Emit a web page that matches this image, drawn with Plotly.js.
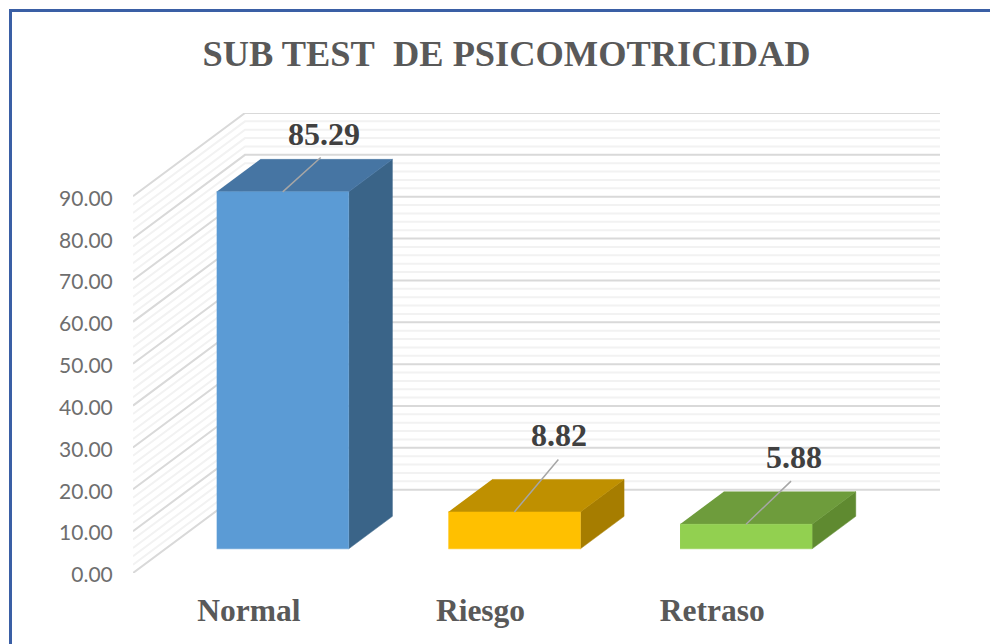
<!DOCTYPE html>
<html>
<head>
<meta charset="utf-8">
<script src="https://cdn.plot.ly/plotly-3.0.1.min.js"></script>
<style>
    html, body { margin: 0; padding: 0; background: white; overflow: hidden; }
    #chart { width: 990px; height: 644px; }
    #frame {
        position: absolute; left: 9px; top: 9px; right: 0; bottom: 0;
        border-left: 3px solid #3a5fa5; border-top: 3px solid #3a5fa5;
        pointer-events: none;
    }
</style>
</head>
<body>
<div id="chart"></div>
<div id="frame"></div>
<script>
const categories = ['Normal', 'Riesgo', 'Retraso'];
const values = [85.29, 8.82, 5.88];
const yTicks = [0, 10, 20, 30, 40, 50, 60, 70, 80, 90];

const frontColors = ['#5b9bd5', '#ffc000', '#92d050'];
const topColors = ['#4675a3', '#bf9000', '#6e9c3c'];
const sideColors = ['#3a6488', '#a67d00', '#5f8a30'];

// leader line tip and label centre, in pixels from the bar's front top edge
const leaderDx = [41, 47, 48];
const leaderDy = [-37, -56, -46];
const labelDx = [41, 45, 48];
const labelDy = [-58, -77, -67];

// oblique 3D look: depth 0 is the front of the floor, depth 1 the back wall
const DEPTH_X = 0.4834;
const DEPTH_Y = 19.9;
const BAR_FRONT = 0.29;
const BAR_BACK = 0.68;
const BAR_WIDTH = 0.57;
const BAR_SHIFT = 0.006;
const X_MIN = -0.5;
const X_MAX = 2.5;

function project(slot, value, depth) {
    return [slot + depth * DEPTH_X, value + depth * DEPTH_Y];
}

function polygon(points, color) {
    const projected = points.map((p) => project(p[0], p[1], p[2]));
    return {
        x: projected.map((p) => p[0]),
        y: projected.map((p) => p[1]),
        type: 'scatter',
        mode: 'lines',
        fill: 'toself',
        fillcolor: color,
        line: { color: color, width: 0.5 },
        hoverinfo: 'skip',
        cliponaxis: false,
    };
}

function wallLines(levels, color, width) {
    const x = [];
    const y = [];
    levels.forEach((level) => {
        [[X_MIN, 0], [X_MIN, 1], [X_MAX, 1]].forEach((corner) => {
            const p = project(corner[0], level, corner[1]);
            x.push(p[0]);
            y.push(p[1]);
        });
        x.push(null);
        y.push(null);
    });
    return {
        x, y,
        type: 'scatter',
        mode: 'lines',
        line: { color: color, width: width },
        hoverinfo: 'skip',
        cliponaxis: false,
    };
}

const minorLevels = [];
for (let level = 0; level <= 90; level += 2) {
    if (!yTicks.includes(level)) {
        minorLevels.push(level);
    }
}

const traces = [
    wallLines(minorLevels, '#f2f2f2', 2),
    wallLines(yTicks, '#d9d9d9', 2),
];

categories.forEach((name, i) => {
    const left = i + BAR_SHIFT - BAR_WIDTH / 2;
    const right = left + BAR_WIDTH;
    const v = values[i];
    traces.push(polygon([[right, 0, BAR_FRONT], [right, 0, BAR_BACK], [right, v, BAR_BACK], [right, v, BAR_FRONT]], sideColors[i]));
    traces.push(polygon([[left, v, BAR_FRONT], [right, v, BAR_FRONT], [right, v, BAR_BACK], [left, v, BAR_BACK]], topColors[i]));
    traces.push(polygon([[left, 0, BAR_FRONT], [right, 0, BAR_FRONT], [right, v, BAR_FRONT], [left, v, BAR_FRONT]], frontColors[i]));
});

const annotations = [];
categories.forEach((name, i) => {
    const anchor = project(i + BAR_SHIFT, values[i], BAR_FRONT);
    annotations.push({
        x: anchor[0],
        y: anchor[1],
        xref: 'x',
        yref: 'y',
        axref: 'pixel',
        ayref: 'pixel',
        ax: leaderDx[i],
        ay: leaderDy[i],
        text: ' ',
        showarrow: true,
        arrowhead: 0,
        arrowwidth: 1.5,
        arrowcolor: '#a6a6a6',
        standoff: 0,
        startstandoff: 0,
    });
    annotations.push({
        x: anchor[0],
        y: anchor[1],
        xref: 'x',
        yref: 'y',
        xshift: labelDx[i],
        yshift: -labelDy[i],
        text: values[i].toFixed(2),
        showarrow: false,
        xanchor: 'center',
        yanchor: 'middle',
        font: { family: '"Liberation Serif", serif', size: 32, color: '#404040', weight: 'bold' },
    });
});

const layout = {
    width: 990,
    height: 644,
    autosize: false,
    showlegend: false,
    paper_bgcolor: 'white',
    plot_bgcolor: 'white',
    margin: { l: 133, r: 50, t: 113, b: 70.5 },
    title: {
        text: '<b>SUB TEST\u00a0 DE PSICOMOTRICIDAD</b>',
        x: 506.5 / 990,
        xanchor: 'center',
        y: 1 - 53 / 644,
        yanchor: 'middle',
        font: { family: '"Liberation Serif", serif', size: 36.4, color: '#595959' },
    },
    xaxis: {
        range: [X_MIN, X_MAX + DEPTH_X],
        tickmode: 'array',
        tickvals: [0, 1, 2],
        ticktext: categories.map((name) => `<b>${name}</b>`),
        tickfont: { family: '"Liberation Serif", serif', size: 31.5, color: '#595959' },
        ticks: 'outside',
        ticklen: 9,
        tickcolor: 'rgba(0,0,0,0)',
        showgrid: false,
        zeroline: false,
        showline: false,
    },
    yaxis: {
        range: [0, 90 + DEPTH_Y],
        tickmode: 'array',
        tickvals: yTicks,
        ticktext: yTicks.map((tick) => tick.toFixed(2)),
        tickfont: { family: 'Lato, sans-serif', size: 21, color: '#6e6e6e' },
        ticks: 'outside',
        ticklen: 15,
        tickcolor: 'rgba(0,0,0,0)',
        ticklabelshift: 2,
        showgrid: false,
        zeroline: false,
        showline: false,
    },
    annotations: annotations,
};

Plotly.newPlot('chart', traces, layout, { displayModeBar: false, staticPlot: true });
</script>
</body>
</html>
